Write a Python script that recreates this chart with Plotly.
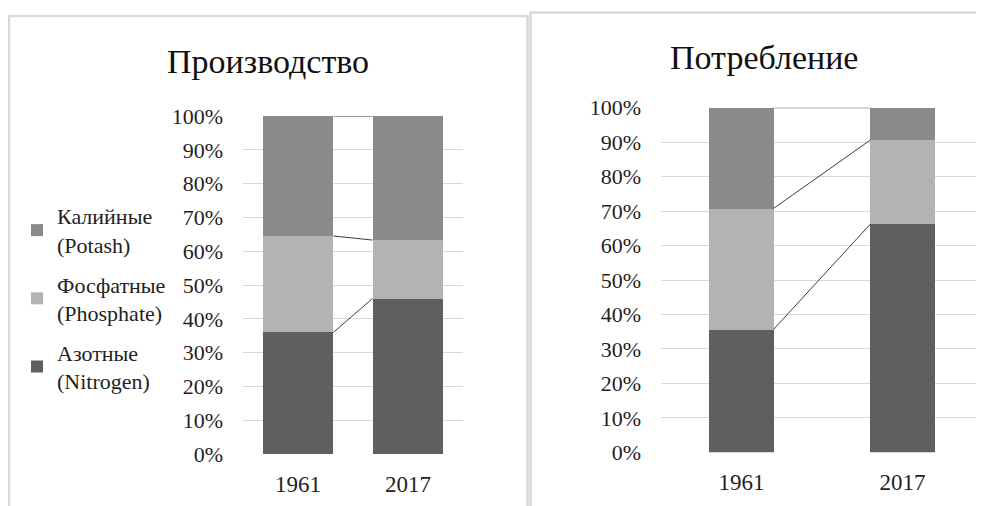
import plotly.graph_objects as go

W, H = 984, 506
OFF = 8  # page body margin

years = ["1961", "2017"]
series_names = ["Азотные<br>(Nitrogen)", "Фосфатные<br>(Phosphate)", "Калийные<br>(Potash)"]
colors = ["#5f5f5f", "#b3b3b3", "#8a8a8a"]

prod_nitrogen = [36.0, 46.0]
prod_phosphate = [28.5, 17.3]
prod_potash = [35.5, 36.7]

cons_nitrogen = [35.7, 66.2]
cons_phosphate = [35.1, 24.4]
cons_potash = [29.2, 9.4]

titles = ["Производство", "Потребление"]
yticks = list(range(0, 101, 10))
ytick_labels = [f"{v}%" for v in yticks]

FONT = "Liberation Serif"


def px_x(p):
    return (p - OFF) / W


def px_y(p):
    return 1 - (p - OFF) / H


fig = go.Figure()

panels = [
    dict(data=[prod_nitrogen, prod_phosphate, prod_potash], xa="x", ya="y",
         width=0.645, dom_x=(243, 463), dom_y=(454, 116), legend=True),
    dict(data=[cons_nitrogen, cons_phosphate, cons_potash], xa="x2", ya="y2",
         width=0.40, dom_x=(661, 983), dom_y=(452.3, 107.7), legend=False),
]

xpos = list(range(len(years)))

for pi, p in enumerate(panels):
    for si, vals in enumerate(p["data"]):
        fig.add_trace(go.Bar(
            x=xpos, y=vals, name=series_names[si], width=p["width"],
            marker=dict(color=colors[si], line=dict(width=0)),
            xaxis=p["xa"], yaxis=p["ya"],
            showlegend=p["legend"], legendgroup=f"g{si}",
            legendrank=10 - si, hoverinfo="skip",
        ))
    # series lines between bars (cumulative tops)
    cum = [0.0] * len(years)
    for si, vals in enumerate(p["data"]):
        cum = [c + v for c, v in zip(cum, vals)]
        for i in range(len(years) - 1):
            fig.add_trace(go.Scatter(
                x=[xpos[i] + p["width"] / 2, xpos[i + 1] - p["width"] / 2],
                y=[cum[i], cum[i + 1]], mode="lines",
                line=dict(color="#3c3c3c", width=1),
                xaxis=p["xa"], yaxis=p["ya"], showlegend=False, hoverinfo="skip",
            ))

axis_common_y = dict(range=[0, 100], tickvals=yticks, ticktext=ytick_labels,
                     showgrid=True, gridcolor="#d9d9d9", gridwidth=1,
                     zeroline=False, showline=False, ticks="", automargin=False,
                     ticklabelstandoff=19,
                     tickfont=dict(family=FONT, size=22, color="#1f1f1f"))
axis_common_x = dict(range=[-0.5, len(years) - 0.5], tickvals=xpos, ticktext=years,
                     showgrid=False, zeroline=False, showline=False, ticks="", automargin=False,
                     ticklabelstandoff=14,
                     tickfont=dict(family=FONT, size=23, color="#1f1f1f"))

p0, p1 = panels
fig.update_layout(
    width=W, height=H,
    margin=dict(l=0, r=0, t=0, b=0),
    font=dict(family=FONT, color="#1f1f1f"),
    paper_bgcolor="white", plot_bgcolor="rgba(0,0,0,0)",
    barmode="stack", bargap=0,
    xaxis=dict(domain=[px_x(p0["dom_x"][0]), px_x(p0["dom_x"][1])], anchor="y", **axis_common_x),
    yaxis=dict(domain=[px_y(p0["dom_y"][0]), px_y(p0["dom_y"][1])], anchor="x", **axis_common_y),
    xaxis2=dict(domain=[px_x(p1["dom_x"][0]), px_x(p1["dom_x"][1])], anchor="y2", **axis_common_x),
    yaxis2=dict(domain=[px_y(p1["dom_y"][0]), px_y(p1["dom_y"][1])], anchor="x2", **axis_common_y),
    showlegend=True,
    legend=dict(x=px_x(17), y=px_y(195), xanchor="left", yanchor="top",
                traceorder="grouped", tracegroupgap=8,
                font=dict(family=FONT, size=22, color="#1f1f1f"),
                bgcolor="rgba(0,0,0,0)", itemclick=False),
    annotations=[
        dict(text=titles[0], x=px_x(268), y=px_y(61), xref="paper", yref="paper",
             xanchor="center", yanchor="middle",
             showarrow=False, font=dict(family=FONT, size=34, color="#111111")),
        dict(text=titles[1], x=px_x(764), y=px_y(57), xref="paper", yref="paper",
             xanchor="center", yanchor="middle",
             showarrow=False, font=dict(family=FONT, size=34, color="#111111")),
    ],
    shapes=[
        dict(type="rect", xref="paper", yref="paper", x0=px_x(9), x1=px_x(527.5),
             y0=-0.1, y1=px_y(16), line=dict(color="#d9d9d9", width=2.5), fillcolor="rgba(0,0,0,0)"),
        dict(type="rect", xref="paper", yref="paper", x0=px_x(530.5), x1=1.1,
             y0=-0.1, y1=px_y(12.5), line=dict(color="#d9d9d9", width=2.5), fillcolor="rgba(0,0,0,0)"),
    ],
)

fig.write_html("out.html")
